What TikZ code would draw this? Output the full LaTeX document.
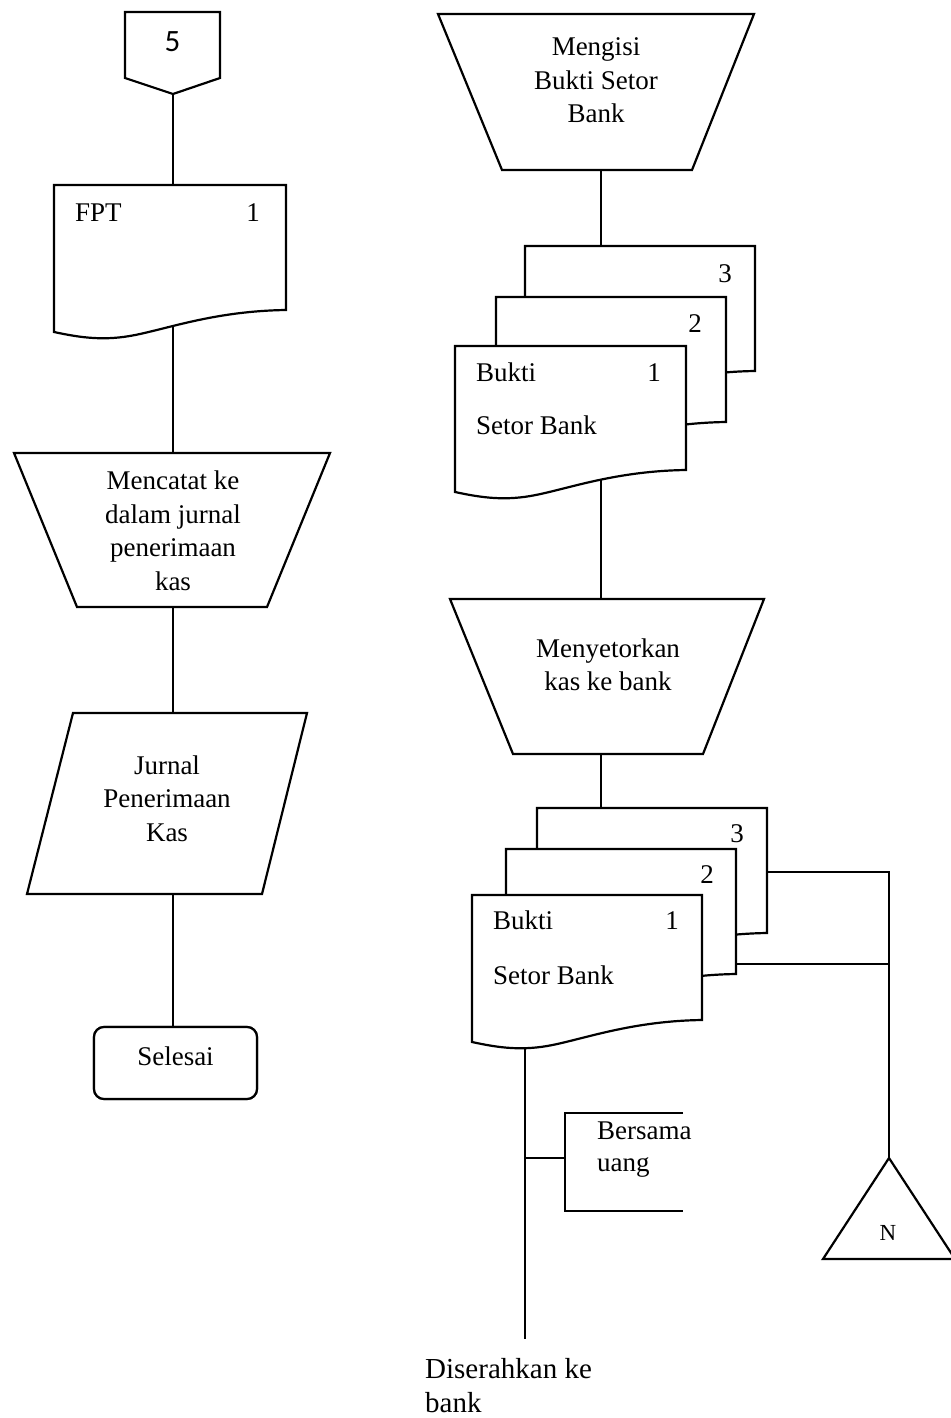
\documentclass[tikz,border=0pt]{standalone}
\usepackage{fontspec}
\setmainfont{Liberation Serif}
\newfontfamily\connfont{Carlito}
\tikzset{
  outline/.style={draw=black, line width=2.2pt, fill=white, line join=miter},
  flow/.style={draw=black, line width=1.1pt},
  txt/.style={inner sep=0pt, font=\fontsize{27}{33.5}\selectfont},
  block/.style={txt, align=center},
}
% document symbol: top-left corner, width, height of the straight right edge
\newcommand\docshape[4]{%
  \begin{scope}[shift={(#1,#2)}]
    \path[outline] (0,0) -- (#3,0) -- (#3,#4)
      .. controls ({0.7*#3},{#4+1}) and ({0.5*#3},{#4+18}) .. ({0.35*#3},{#4+25})
      .. controls ({0.22*#3},{#4+31}) and ({0.12*#3},{#4+28}) .. (0,{#4+22}) -- cycle;
  \end{scope}}
\begin{document}
\begin{tikzpicture}[x=1pt,y=-1pt]
\useasboundingbox (0,0) rectangle (950,1418);

% ---------- connection points ----------
\coordinate (conn5) at (173,94);
\coordinate (fptTop) at (173,185);
\coordinate (fptBot) at (173,326);
\coordinate (catatTop) at (173,453);
\coordinate (catatBot) at (173,607);
\coordinate (jurnalTop) at (173,713);
\coordinate (jurnalBot) at (173,894);

\coordinate (isiBot) at (601,170);
\coordinate (bsbATop) at (601,246);
\coordinate (bsbABot) at (601,478);
\coordinate (setorTop) at (601,599);
\coordinate (setorBot) at (601,754);
\coordinate (bsbBTop) at (601,808);
\coordinate (bsbBBot) at (525,1044);
\coordinate (bank) at (525,1339);
\coordinate (copy3) at (767,872);
\coordinate (copy2) at (736,964);
\coordinate (junc3) at (889,872);
\coordinate (junc2) at (889,964);
\coordinate (fileTop) at (889,1158);
\coordinate (noteTap) at (525,1158);
\coordinate (noteMid) at (565,1158);

% ---------- terminator ----------
\node[outline, rounded corners=10pt, minimum width=163pt, minimum height=72pt,
      txt, text depth=14pt] (selesai) at (175.5,1063) {Selesai};

% ---------- connectors ----------
\draw[flow] (conn5) -- (fptTop);
\draw[flow] (fptBot) -- (catatTop);
\draw[flow] (catatBot) -- (jurnalTop);
\draw[flow] (jurnalBot) -- (selesai.north -| jurnalBot);
\draw[flow] (isiBot) -- (bsbATop);
\draw[flow] (bsbABot) -- (setorTop);
\draw[flow] (setorBot) -- (bsbBTop);
\draw[flow] (bsbBBot) -- (bank);
\draw[flow] (copy3) -- (junc3) -- (fileTop);
\draw[flow] (copy2) -- (junc2);
\draw[flow] (noteTap) -- (noteMid);
\draw[flow] (683,1113) -- (565,1113) -- (565,1211) -- (683,1211);

% redraw the terminator over its connector
\node[outline, rounded corners=10pt, minimum width=163pt, minimum height=72pt,
      txt, text depth=14pt] at (selesai.center) {Selesai};

% ---------- left column ----------
\path[outline] (125,12) -- (220,12) -- (220,78) -- (173,94) -- (125,78) -- cycle;
\node[inner sep=0pt, font=\connfont\fontsize{31}{34}\selectfont] (five) at (172.5,42) {5};

\docshape{54}{185}{232}{125}
\node[txt, anchor=base west] (fpt) at (75,221) {FPT};
\node[txt, anchor=base] (fptno) at (253,221) {1};

\path[outline] (14,453) -- (330,453) -- (267,607) -- (77,607) -- cycle;
\node[block] (catat) at (173,531) {Mencatat ke\\dalam jurnal\\penerimaan\\kas};

\path[outline] (73,713) -- (307,713) -- (262,894) -- (27,894) -- cycle;
\node[block] (jurnal) at (167,798.5) {Jurnal\\Penerimaan\\Kas};

% ---------- right column ----------
\path[outline] (438,14) -- (754,14) -- (692,170) -- (502,170) -- cycle;
\node[block] (isi) at (596,80.5) {Mengisi\\Bukti Setor\\Bank};

\docshape{525}{246}{230}{125}
\node[txt, anchor=base] (a3) at (725,282) {3};
\docshape{496}{297}{230}{125}
\node[txt, anchor=base] (a2) at (695,332) {2};
\docshape{455}{346}{231}{124}
\node[txt, anchor=base west] (abukti) at (476,381) {Bukti};
\node[txt, anchor=base] (a1) at (654,381) {1};
\node[txt, anchor=base west] (asetor) at (476,434) {Setor Bank};

\path[outline] (450,599) -- (764,599) -- (703,754) -- (513,754) -- cycle;
\node[block] (setor) at (608,665) {Menyetorkan\\kas ke bank};

\docshape{537}{808}{230}{125}
\node[txt, anchor=base] (b3) at (737,842) {3};
\docshape{506}{849}{230}{125}
\node[txt, anchor=base] (b2) at (707,883) {2};
\docshape{472}{895}{230}{125}
\node[txt, anchor=base west] (bbukti) at (493,929) {Bukti};
\node[txt, anchor=base] (b1) at (672,929) {1};
\node[txt, anchor=base west] (bsetor) at (493,984) {Setor Bank};

% annotation
\node[txt, align=left, anchor=north west, font=\fontsize{27}{32}\selectfont]
  (note) at (597,1122) {Bersama\\uang};

% off-line file
\path[outline] (fileTop) -- (955,1259) -- (823,1259) -- cycle;
\node[inner sep=0pt, font=\fontsize{23}{26}\selectfont] (nfile) at (888,1232.5) {N};

% destination
\node[txt, align=left, anchor=north west, font=\fontsize{29}{34}\selectfont]
  (dest) at (425,1358) {Diserahkan ke\\bank};
\end{tikzpicture}
\end{document}
